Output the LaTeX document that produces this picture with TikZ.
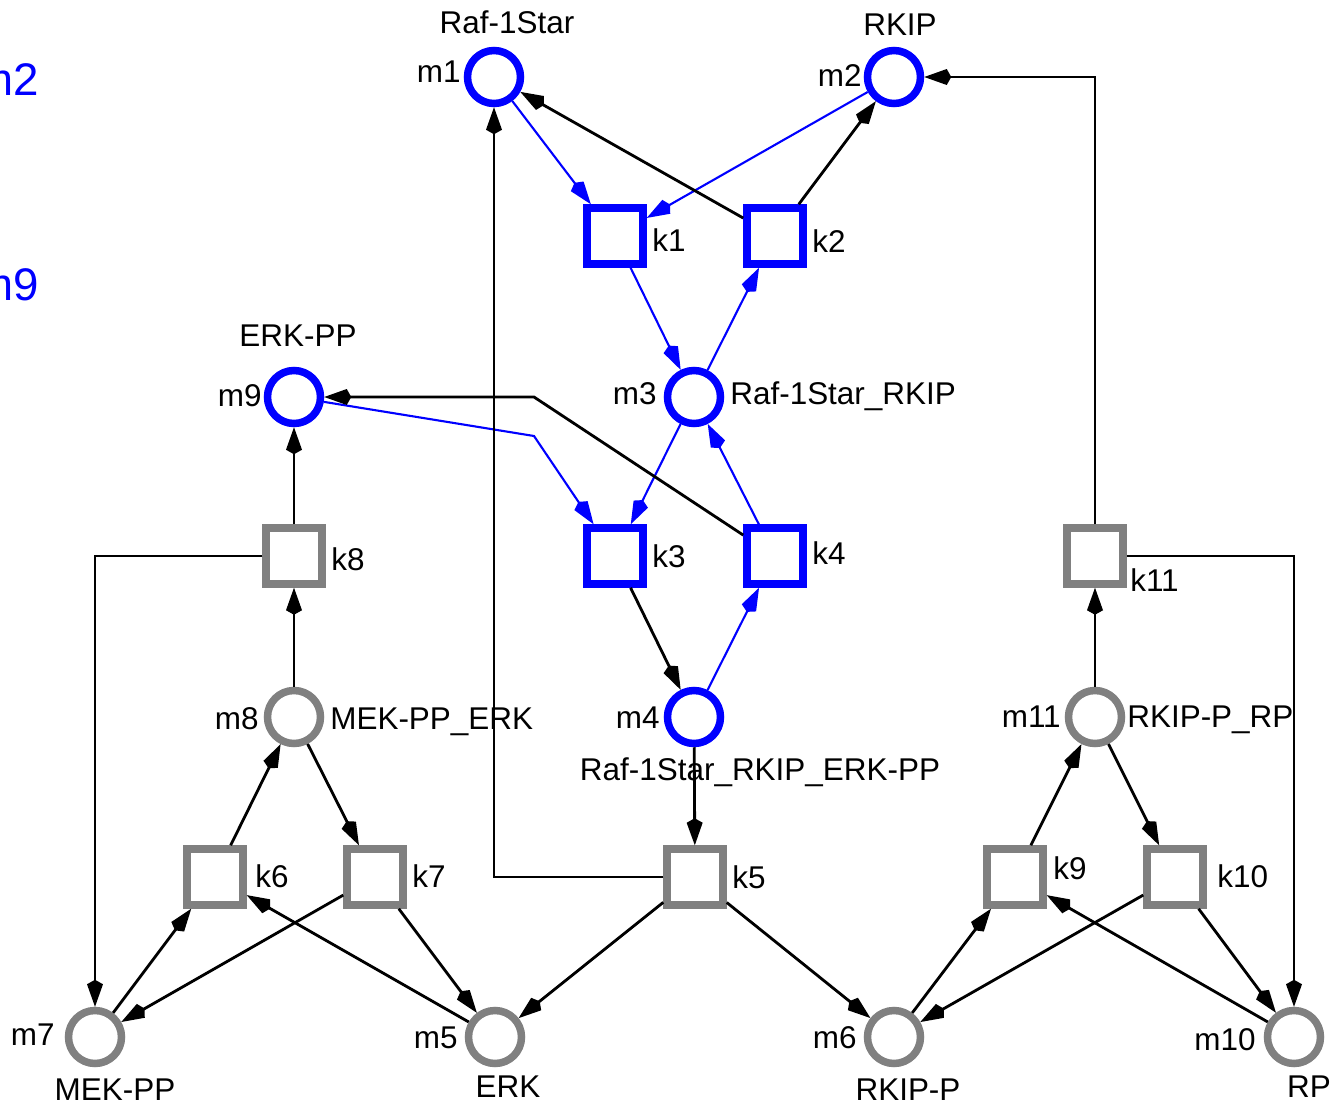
\documentclass[tikz,border=0pt]{standalone}
\usepackage{fontspec}
\setmainfont{Liberation Sans}
\usetikzlibrary{arrows.meta}
\definecolor{netblue}{RGB}{0,0,255}
\definecolor{netgray}{RGB}{128,128,128}

\begin{document}
\begin{tikzpicture}[x=0.02cm, y=-0.02cm,
  font=\fontsize{17.9}{20}\selectfont,
  place/.style={circle, draw, fill=white, line width=0.15cm, minimum size=1.06cm, inner sep=0pt},
  trans/.style={rectangle, draw, fill=white, line width=0.15cm, minimum size=1.12cm, inner sep=0pt},
  active/.style={draw=netblue},
  idle/.style={draw=netgray},
  arc/.style={line width=1.6pt, -{Kite[length=0.54cm, width=0.32cm, inset=0.09cm]}},
  barc/.style={arc, color=netblue, line width=1.2pt},
  lbl/.style={inner sep=0pt, text=black},
  biglbl/.style={inner sep=0pt, text=netblue, font=\fontsize{26}{30}\selectfont},
]
\clip (0,0) rectangle (1340,1106);
\fill[white] (0,0) rectangle (1340,1106);

% places and transitions
\node[place, active] (m1) at (494,77) {};
\node[place, active] (m2) at (894,77) {};
\node[trans, active] (k1) at (615,236) {};
\node[trans, active] (k2) at (775,236) {};
\node[place, active] (m9) at (294,397) {};
\node[place, active] (m3) at (694,397) {};
\node[trans, active] (k3) at (615,556) {};
\node[trans, active] (k4) at (775,556) {};
\node[trans, idle] (k8) at (294,556) {};
\node[trans, idle] (k11) at (1095,556) {};
\node[place, idle] (m8) at (294,717) {};
\node[place, active] (m4) at (694,717) {};
\node[place, idle] (m11) at (1095,717) {};
\node[trans, idle] (k6) at (215,877) {};
\node[trans, idle] (k7) at (375,877) {};
\node[trans, idle] (k5) at (695,877) {};
\node[trans, idle] (k9) at (1015,877) {};
\node[trans, idle] (k10) at (1175,877) {};
\node[place, idle] (m7) at (95,1037) {};
\node[place, idle] (m5) at (495,1037) {};
\node[place, idle] (m6) at (894,1037) {};
\node[place, idle] (m10) at (1294,1037) {};

% bend points
\coordinate (b94) at (534,397);
\coordinate (b93) at (534,436);

% highlighted arcs
\draw[barc] (m1) -- (k1);
\draw[barc] (m2) -- (k1);
\draw[barc] (k1) -- (m3);
\draw[barc] (m3) -- (k2);
\draw[barc] (m9) -- (b93) -- (k3);
\draw[barc] (m3) -- (k3);
\draw[barc] (k4) -- (m3);
\draw[barc] (m4) -- (k4);

% remaining arcs
\draw[arc] (k2) -- (m1);
\draw[arc] (k2) -- (m2);
\draw[arc] (k4) -- (b94) -- (m9);
\draw[arc] (k3) -- (m4);
\draw[arc] (m4) -- (k5);
\draw[arc] (k5) -| (m1);
\draw[arc] (k5) -- (m5);
\draw[arc] (k5) -- (m6);
\draw[arc] (k8) -- (m9);
\draw[arc] (m8) -- (k8);
\draw[arc] (k8) -| (m7);
\draw[arc] (k6) -- (m8);
\draw[arc] (m8) -- (k7);
\draw[arc] (m7) -- (k6);
\draw[arc] (m5) -- (k6);
\draw[arc] (k7) -- (m7);
\draw[arc] (k7) -- (m5);
\draw[arc] (m6) -- (k9);
\draw[arc] (m10) -- (k9);
\draw[arc] (k9) -- (m11);
\draw[arc] (m11) -- (k10);
\draw[arc] (k10) -- (m6);
\draw[arc] (k10) -- (m10);
\draw[arc] (m11) -- (k11);
\draw[arc] (k11) |- (m2);
\draw[arc] (k11) -| (m10);

% labels
\node[lbl, anchor=base] (t-m1) at (507,33) {Raf-1Star};
\node[lbl, anchor=base east] (n-m1) at (461,82) {m1};
\node[lbl, anchor=base] (t-m2) at (900,35) {RKIP};
\node[lbl, anchor=base east] (n-m2) at (862,86) {m2};
\node[lbl, anchor=base west] (n-k1) at (652,251) {k1};
\node[lbl, anchor=base west] (n-k2) at (812,252) {k2};
\node[lbl, anchor=base] (t-m9) at (298,346) {ERK-PP};
\node[lbl, anchor=base east] (n-m9) at (262,406) {m9};
\node[lbl, anchor=base east] (n-m3) at (657,404) {m3};
\node[lbl, anchor=base west] (t-m3) at (730,404) {Raf-1Star\_RKIP};
\node[lbl, anchor=base west] (n-k3) at (652,567) {k3};
\node[lbl, anchor=base west] (n-k4) at (812,564) {k4};
\node[lbl, anchor=base west] (n-k8) at (331,570) {k8};
\node[lbl, anchor=base west] (n-k11) at (1130,591) {k11};
\node[lbl, anchor=base east] (n-m8) at (259,729) {m8};
\node[lbl, anchor=base west] (t-m8) at (330,729) {MEK-PP\_ERK};
\node[lbl, anchor=base east] (n-m4) at (660,728) {m4};
\node[lbl, anchor=base] (t-m4) at (760,780) {Raf-1Star\_RKIP\_ERK-PP};
\node[lbl, anchor=base east] (n-m11) at (1061,727) {m11};
\node[lbl, anchor=base west] (t-m11) at (1127,727) {RKIP-P\_RP};
\node[lbl, anchor=base west] (n-k6) at (255,887) {k6};
\node[lbl, anchor=base west] (n-k7) at (412,887) {k7};
\node[lbl, anchor=base west] (n-k5) at (732,888) {k5};
\node[lbl, anchor=base west] (n-k9) at (1053,879) {k9};
\node[lbl, anchor=base west] (n-k10) at (1217,887) {k10};
\node[lbl, anchor=base east] (n-m7) at (55,1045) {m7};
\node[lbl, anchor=base] (t-m7) at (115,1100) {MEK-PP};
\node[lbl, anchor=base east] (n-m5) at (458,1048) {m5};
\node[lbl, anchor=base] (t-m5) at (508,1097) {ERK};
\node[lbl, anchor=base east] (n-m6) at (857,1048) {m6};
\node[lbl, anchor=base] (t-m6) at (908,1100) {RKIP-P};
\node[lbl, anchor=base east] (n-m10) at (1256,1050) {m10};
\node[lbl, anchor=base] (t-m10) at (1309,1097) {RP};

% side legend
\node[biglbl, anchor=base east] (s-m2) at (39,95) {m2};
\node[biglbl, anchor=base east] (s-m9) at (39,300) {m9};
\end{tikzpicture}
\end{document}
